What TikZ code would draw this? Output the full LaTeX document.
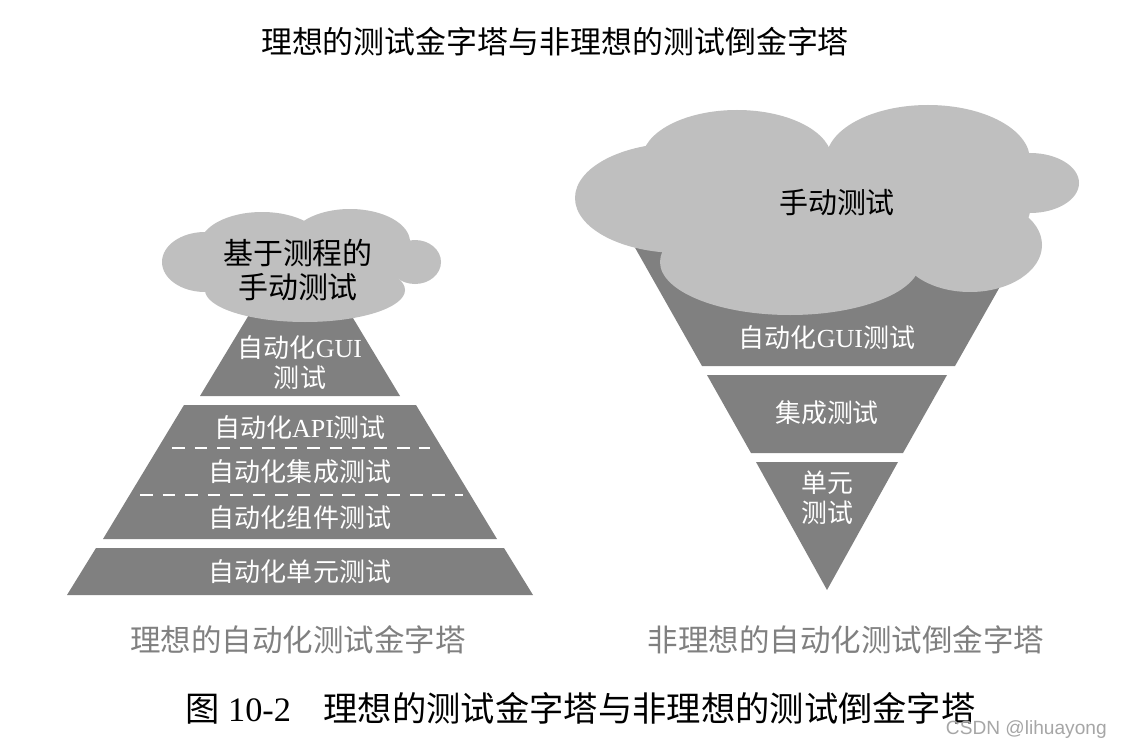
\documentclass[tikz,border=0pt]{standalone}
\usepackage{fontspec}
\setmainfont{Liberation Serif}
\newfontfamily\cjk{Noto Sans CJK SC}
\newfontfamily\wmfont{Liberation Sans}
\usepackage{xcolor}
\usepackage{tikz}
\usetikzlibrary{positioning,calc}

\definecolor{layergray}{HTML}{808080}
\definecolor{cloudgray}{HTML}{BFBFBF}

\begin{document}
\begin{tikzpicture}[x=0.025cm, y=-0.025cm,
    layer/.style={fill=layergray},
    cloudpart/.style={fill=cloudgray},
    sep/.style={draw=white, line width=1.4pt, dash pattern=on 9pt off 7pt},
    laytext/.style={text=white, font=\fontsize{18.5}{21.3}\selectfont, align=center, inner sep=0pt},
    cloudtext/.style={text=black, font=\cjk\fontsize{21.3}{24.2}\selectfont, align=center, inner sep=0pt},
    subtitle/.style={text=layergray, font=\cjk\fontsize{21.7}{26}\selectfont, inner sep=0pt}
]
    \useasboundingbox[fill=white] (0,0) rectangle (1122,748);

    % title
    \node[font=\cjk\fontsize{22}{26}\selectfont, inner sep=0pt] (title) at (555,42) {理想的测试金字塔与非理想的测试倒金字塔};

    % ideal pyramid
    \fill[layer] (270,280) -- (330,280) -- (400,396) -- (200,396) -- cycle;
    \fill[layer] (184,405) -- (416,405) -- (497,539) -- (103,539) -- cycle;
    \fill[layer] (96,548) -- (504,548) -- (533,595) -- (67,595) -- cycle;
    \draw[sep] (172,448) -- (430,448);
    \draw[sep] (140,495) -- (463,495);

    % cloud on top
    \fill[cloudpart] (205,262) ellipse [x radius=43, y radius=30];
    \fill[cloudpart] (262,245) ellipse [x radius=62, y radius=33];
    \fill[cloudpart] (350,242) ellipse [x radius=60, y radius=33];
    \fill[cloudpart] (415,262) ellipse [x radius=26, y radius=22];
    \fill[cloudpart] (305,290) ellipse [x radius=100, y radius=32];
    \fill[cloudpart] (300,265) ellipse [x radius=110, y radius=30];

    \node[cloudtext] (manual1) at (298,270) {基于测程的\\手动测试};
    \node[laytext] (gui1) at (300,363) {{\cjk 自动化}GUI\\{\cjk 测试}};
    \node[laytext] (api1) at (300,428) {{\cjk 自动化}API{\cjk 测试}};
    \node[laytext, font=\cjk\fontsize{18.5}{21.3}\selectfont] (int1) at (300,472) {自动化集成测试};
    \node[laytext, font=\cjk\fontsize{18.5}{21.3}\selectfont] (comp1) at (300,518) {自动化组件测试};
    \node[laytext, font=\cjk\fontsize{18.5}{21.3}\selectfont] (unit1) at (300,572) {自动化单元测试};

    % inverted pyramid
    \fill[layer] (625,230) -- (1032,230) -- (955,366) -- (702,366) -- cycle;
    \fill[layer] (707,375) -- (947,375) -- (903,453) -- (751,453) -- cycle;
    \fill[layer] (756,462) -- (898,462) -- (827,590) -- cycle;

    % big cloud
    \fill[cloudpart] (737,160) ellipse [x radius=95, y radius=50];
    \fill[cloudpart] (928,160) ellipse [x radius=102, y radius=55];
    \fill[cloudpart] (680,198) ellipse [x radius=105, y radius=55];
    \fill[cloudpart] (1030,183) ellipse [x radius=49, y radius=30];
    \fill[cloudpart] (970,245) ellipse [x radius=72, y radius=47];
    \fill[cloudpart] (790,262) ellipse [x radius=130, y radius=53];
    \fill[cloudpart] (830,210) ellipse [x radius=200, y radius=60];

    \node[cloudtext, font=\cjk\fontsize{20.6}{24}\selectfont] (manual2) at (837,202) {手动测试};
    \node[laytext] (gui2) at (827,338) {{\cjk 自动化}GUI{\cjk 测试}};
    \node[laytext, font=\cjk\fontsize{18.4}{21.3}\selectfont] (int2) at (827,413) {集成测试};
    \node[laytext, font=\cjk\fontsize{18.4}{21.3}\selectfont] (unit2) at (827,498) {单元\\测试};

    % captions
    \node[subtitle] (sub1) at (298,640) {理想的自动化测试金字塔};
    \node[subtitle] (sub2) at (846,640) {非理想的自动化测试倒金字塔};
    \node[anchor=west, inner sep=0pt, font=\fontsize{24.4}{28}\selectfont] (caption) at (185,708)
        {{\cjk 图} 10-2\hspace{0.95em}{\cjk 理想的测试金字塔与非理想的测试倒金字塔}};
    \node[anchor=east, inner sep=0pt, text=black!35, font=\wmfont\fontsize{13.6}{16}\selectfont] (mark) at (1107,730) {CSDN @lihuayong};
\end{tikzpicture}
\end{document}
